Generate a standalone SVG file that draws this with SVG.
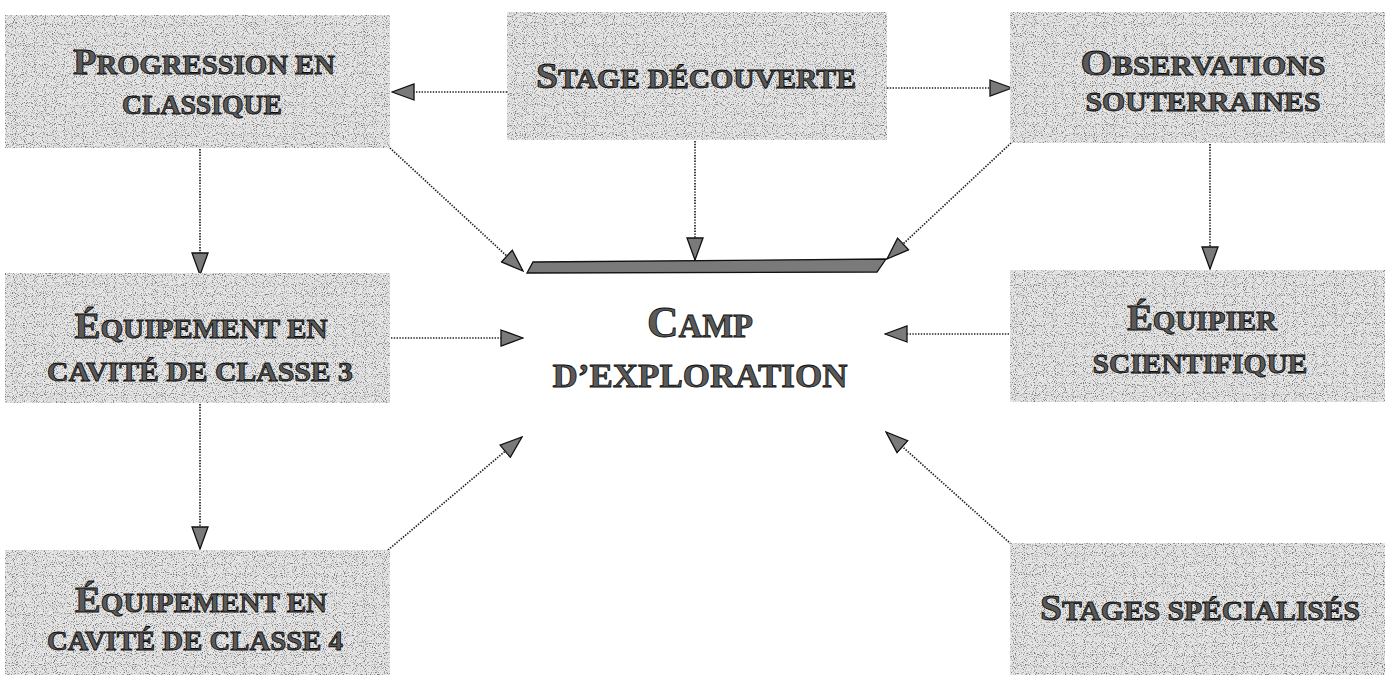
<svg xmlns="http://www.w3.org/2000/svg" width="1385" height="675" viewBox="0 0 1385 675">
<defs>
<style>
.box{fill:#e6e6e6;filter:url(#grain)}
.t{font-family:"Liberation Serif","Times New Roman",serif;font-weight:bold;fill:#5a5a5a;stroke:#0a0a0a;stroke-width:0.8;text-anchor:middle}
.big{font-size:36px}
.sm{font-size:27px}
.cbig{font-size:44px}
.csm{font-size:33px}
.c{fill:none;stroke:#1e1e1e;stroke-width:1.7;stroke-dasharray:1.4 1.4;marker-end:url(#ah)}
</style>
<filter id="grain" x="0" y="0" width="1" height="1">
<feTurbulence type="fractalNoise" baseFrequency="0.9" numOctaves="1" seed="7" result="t"/>
<feColorMatrix in="t" type="matrix" values="0 0 0 0 0.2  0 0 0 0 0.2  0 0 0 0 0.2  5 0 0 0 -2.5" result="d"/>
<feComposite in="d" in2="SourceGraphic" operator="in" result="dc"/>
<feMerge><feMergeNode in="SourceGraphic"/><feMergeNode in="dc"/></feMerge>
</filter>
<marker id="ah" markerUnits="userSpaceOnUse" viewBox="0 0 24 18" markerWidth="24" markerHeight="18" refX="23" refY="9" orient="auto">
<path d="M1,1 L23,9 L1,17 Z" fill="#7a7a7a" stroke="#111111" stroke-width="1.3"/>
</marker>
</defs>
<rect width="1385" height="675" fill="#ffffff"/>

<g id="connectors">
<line class="c" x1="507" y1="92" x2="392" y2="92"/>
<line class="c" x1="887" y1="88" x2="1012" y2="88"/>
<line class="c" x1="695" y1="141" x2="695" y2="260"/>
<line class="c" x1="390" y1="148" x2="523" y2="271"/>
<line class="c" x1="1011" y1="143" x2="887" y2="259"/>
<line class="c" x1="200" y1="149" x2="200" y2="275"/>
<line class="c" x1="391" y1="338" x2="523" y2="338"/>
<line class="c" x1="200" y1="404" x2="200" y2="549"/>
<line class="c" x1="388" y1="550" x2="522" y2="437"/>
<line class="c" x1="1210" y1="144" x2="1210" y2="269"/>
<line class="c" x1="1009" y1="334" x2="885" y2="334"/>
<line class="c" x1="1011" y1="544" x2="886" y2="432"/>
</g>

<g id="n-progression">
<rect class="box" x="5" y="15" width="385" height="133"/>
<text class="t" x="204" y="74" textLength="262" lengthAdjust="spacingAndGlyphs"><tspan class="big">P</tspan><tspan class="sm">ROGRESSION EN</tspan></text>
<text class="t sm" x="202" y="114" textLength="160" lengthAdjust="spacingAndGlyphs">CLASSIQUE</text>
</g>

<g id="n-stage-decouverte">
<rect class="box" x="507" y="12" width="380" height="128"/>
<text class="t" x="696" y="88" textLength="320" lengthAdjust="spacingAndGlyphs"><tspan class="big">S</tspan><tspan class="sm">TAGE DÉCOUVERTE</tspan></text>
</g>

<g id="n-observations">
<rect class="box" x="1010" y="12" width="375" height="131"/>
<text class="t" x="1203" y="75" textLength="245" lengthAdjust="spacingAndGlyphs"><tspan class="big">O</tspan><tspan class="sm">BSERVATIONS</tspan></text>
<text class="t sm" x="1203" y="111" textLength="235" lengthAdjust="spacingAndGlyphs">SOUTERRAINES</text>
</g>

<g id="n-equipement-3">
<rect class="box" x="5" y="273" width="385" height="130"/>
<text class="t" x="201" y="338" textLength="253" lengthAdjust="spacingAndGlyphs"><tspan class="big">É</tspan><tspan class="sm">QUIPEMENT EN</tspan></text>
<text class="t sm" x="200" y="381" textLength="306" lengthAdjust="spacingAndGlyphs">CAVITÉ DE CLASSE 3</text>
</g>

<g id="n-equipement-4">
<rect class="box" x="5" y="550" width="385" height="125"/>
<text class="t" x="201" y="612" textLength="252" lengthAdjust="spacingAndGlyphs"><tspan class="big">É</tspan><tspan class="sm">QUIPEMENT EN</tspan></text>
<text class="t sm" x="195" y="650" textLength="296" lengthAdjust="spacingAndGlyphs">CAVITÉ DE CLASSE 4</text>
</g>

<g id="n-camp">
<path d="M533,262 L886,259 L877,272 L527,273 Z" fill="#7a7a7a" stroke="#111111" stroke-width="1.3"/>
<text class="t" x="700" y="337" textLength="106" lengthAdjust="spacingAndGlyphs"><tspan class="cbig">C</tspan><tspan class="csm">AMP</tspan></text>
<text class="t csm" x="700" y="387" textLength="295" lengthAdjust="spacingAndGlyphs">D’EXPLORATION</text>
</g>

<g id="n-equipier">
<rect class="box" x="1010" y="270" width="375" height="132"/>
<text class="t" x="1202" y="330" textLength="150" lengthAdjust="spacingAndGlyphs"><tspan class="big">É</tspan><tspan class="sm">QUIPIER</tspan></text>
<text class="t sm" x="1200" y="373" textLength="215" lengthAdjust="spacingAndGlyphs">SCIENTIFIQUE</text>
</g>

<g id="n-stages-specialises">
<rect class="box" x="1010" y="543" width="375" height="132"/>
<text class="t" x="1200" y="620" textLength="320" lengthAdjust="spacingAndGlyphs"><tspan class="big">S</tspan><tspan class="sm">TAGES SPÉCIALISÉS</tspan></text>
</g>
</svg>
